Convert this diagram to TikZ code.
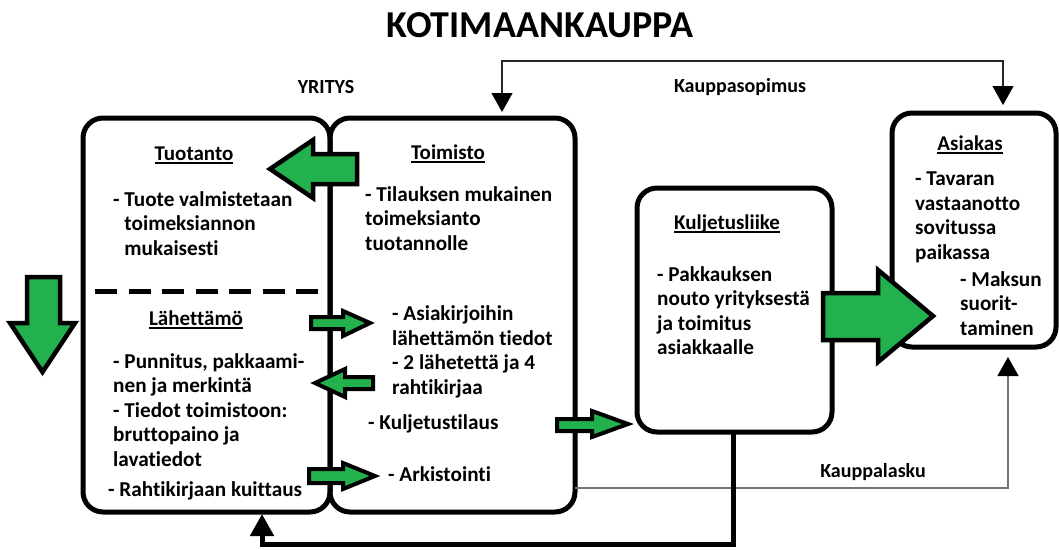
\documentclass[tikz,border=0pt]{standalone}
\usepackage{fontspec}
\setmainfont{Carlito}[Ligatures={NoCommon}]
\usetikzlibrary{arrows.meta}
\definecolor{arrowgreen}{HTML}{22B14C}
\newcommand\dgbody{\fontsize{21.2}{24.5}\selectfont\bfseries}
\newcommand\dghfont{\fontsize{21}{24.5}\selectfont\bfseries}
\newcommand\dglabel{\fontsize{20}{24}\selectfont\bfseries}
\newcommand\dghead[1]{\setbox0\hbox{#1}\rlap{\rule[-3.5pt]{\wd0}{1.8pt}}\box0}
\begin{document}
\begin{tikzpicture}[x=1pt,y=-1pt,
  box/.style={draw, line width=5pt, rounded corners=20pt, inner sep=0pt, outer sep=0pt},
  body/.style={font=\dgbody, align=left, anchor=north west, inner sep=0pt, execute at begin node=\strut},
  head/.style={font=\dghfont, anchor=base, inner sep=0pt},
  label/.style={font=\dglabel, anchor=base, inner sep=0pt},
  bigarrow/.style={fill=arrowgreen, draw=black, line width=4.5pt},
  smallarrow/.style={fill=arrowgreen, draw=black, line width=4pt},
  thinlink/.style={line width=1.2pt, draw=black!85},
  paylink/.style={line width=1.3pt, draw=black!55},
  thicklink/.style={line width=5pt, draw=black},
  thintip/.tip={Triangle[length=19pt,width=21pt,color=black]},
  thicktip/.tip={Triangle[length=22pt,width=23pt,color=black]},
]
\useasboundingbox (0,0) rectangle (1059,549);

% title and free labels
\node[font=\fontsize{38}{44}\selectfont\bfseries, anchor=base, inner sep=0pt] (title) at (540,37.5) {KOTIMAANKAUPPA};
\node[label] (yritys) at (326,93.5) {YRITYS};

% the four parties
\node[box, minimum width=247pt, minimum height=394pt] (tuot) at (206.5,315) {};
\node[box, minimum width=245pt, minimum height=394pt] (toim) at (452.5,315) {};
\node[box, minimum width=195pt, minimum height=244pt] (kulj) at (734.5,310) {};
\node[box, minimum width=164pt, minimum height=234pt] (asia) at (974,230) {};

% divider between production and dispatch
\draw[line width=5pt, dash pattern=on 22pt off 11.5pt] (95,291) -- (318,291);

% Tuotanto / Lähettämö
\node[head] (h-tuot) at (194,160) {\dghead{Tuotanto}};
\node[body] (t-tuot) at (113,191) {- Tuote valmistetaan\\\phantom{- }toimeksiannon\\\phantom{- }mukaisesti};
\node[head] (h-lah) at (196,325.5) {\dghead{Lähettämö}};
\node[body] (t-lah) at (113,353) {- Punnitus, pakkaami-\\nen ja merkintä\\- Tiedot toimistoon:\\bruttopaino ja\\lavatiedot};
\node[body] (t-kuit) at (108,479) {- Rahtikirjaan kuittaus};

% Toimisto
\node[head] (h-toim) at (448,159.5) {\dghead{Toimisto}};
\node[body] (t-toim1) at (365,186) {- Tilauksen mukainen\\toimeksianto\\tuotannolle};
\node[body] (t-toim2) at (392,305.5) {- Asiakirjoihin\\lähettämön tiedot\\- 2 lähetettä ja 4\\rahtikirjaa};
\node[body] (t-tilaus) at (368,412) {- Kuljetustilaus};
\node[body] (t-ark) at (388,464) {- Arkistointi};

% Kuljetusliike
\node[head] (h-kulj) at (727,229.5) {\dghead{Kuljetusliike}};
\node[body] (t-kulj) at (657,266) {- Pakkauksen\\nouto yrityksestä\\ja toimitus\\asiakkaalle};

% Asiakas
\node[head] (h-asia) at (970,150.5) {\dghead{Asiakas}};
\node[body] (t-asia1) at (915,172) {- Tavaran\\vastaanotto\\sovitussa\\paikassa};
\node[body] (t-asia2) at (960,271) {- Maksun\\suorit-\\taminen};

% contract between office and customer
\draw[thinlink, thintip-thintip] ([xshift=49.5pt,yshift=6pt]toim.north) -- ++(0,-51) -| ([xshift=29pt,yshift=8pt]asia.north);
\node[label] (sopimus) at (740,92) {Kauppasopimus};

% invoice from office to customer
\draw[paylink, -thintip] ([yshift=-173pt]toim.east) -| ([xshift=34pt,yshift=-10pt]asia.south);
\node[label] (lasku) at (873,477) {Kauppalasku};

% carrier's receipt back to dispatch
\draw[thicklink, -thicktip] ([xshift=-1.5pt]kulj.south) -- ++(0,112.5) -| ([xshift=55.5pt,yshift=-2pt]tuot.south);

% green flow arrows
\draw[bigarrow] (42.5,372) -- (10,323) -- (27,323) -- (27,277) -- (60,277) -- (60,323) -- (75,323) -- cycle;
\draw[bigarrow] (270,169) -- (313,140) -- (313,154) -- (357,154) -- (357,184) -- (313,184) -- (313,198) -- cycle;
\draw[bigarrow] (933,316) -- (878,270) -- (878,293) -- (823,293) -- (823,340) -- (878,340) -- (878,362) -- cycle;
\draw[smallarrow] (370,323) -- (343,311) -- (343,317) -- (311,317) -- (311,329) -- (343,329) -- (343,336) -- cycle;
\draw[smallarrow] (315,383) -- (345,369) -- (345,377) -- (373,377) -- (373,389) -- (345,389) -- (345,397) -- cycle;
\draw[smallarrow] (375,476) -- (343,463) -- (343,469) -- (309,469) -- (309,483) -- (343,483) -- (343,489) -- cycle;
\draw[smallarrow] (628,424) -- (592,411) -- (592,419) -- (557,419) -- (557,431) -- (592,431) -- (592,437) -- cycle;
\end{tikzpicture}
\end{document}
